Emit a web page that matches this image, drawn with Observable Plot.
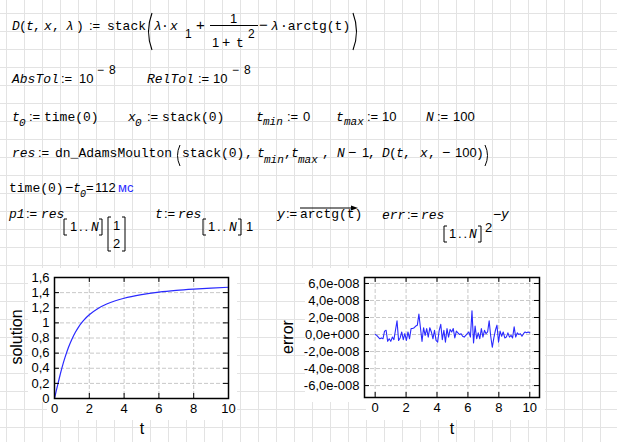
<!DOCTYPE html>
<html><head><meta charset="utf-8">
<script src="https://cdn.jsdelivr.net/npm/d3@7"></script>
<script src="https://cdn.jsdelivr.net/npm/@observablehq/plot@0.6"></script>
<style>
html,body{margin:0;padding:0;background:#fff;}
#sheet{position:relative;width:617px;height:442px;overflow:hidden;background-color:#fff;
 background-image:linear-gradient(to right,#e3e3e3 1px,transparent 1px),linear-gradient(to bottom,#e3e3e3 1px,transparent 1px);
 background-size:18px 18px;background-position:6px 13px;}
.white{position:absolute;background:#fff;}
.plotbox{position:absolute;}
#overlay{position:absolute;left:0;top:0;pointer-events:none;}
</style></head><body><div id="sheet"></div>
<script>
// ---------- data ----------
const solT = [0,0.1,0.2,0.3,0.4,0.5,0.6,0.8,1,1.2,1.4,1.6,1.8,2,2.5,3,3.5,4,5,6,7,8,9,10];
const solY = [0,0.100,0.197,0.291,0.381,0.464,0.540,0.675,0.785,0.876,0.951,1.012,1.064,1.107,1.190,1.249,1.292,1.326,1.373,1.406,1.429,1.446,1.460,1.471];
const xTicks = [0,2,4,6,8,10];
const solTicks = [0,0.2,0.4,0.6,0.8,1,1.2,1.4,1.6];
const errTicks = [-6e-8,-4e-8,-2e-8,0,2e-8,4e-8,6e-8];
const tMin = 0, tMax = 10, N = 100;
// error values in units of 1e-8, one per time step
const errE8 = [
  0,-0.1,-0.3,-0.5,-0.4,-0.5,0.4,0.5,-0.8,-0.5,
  -0.8,-0.3,-0.6,0.5,1.6,-0.7,-0.4,0.3,-0.6,0.1,
  -0.7,0.3,-0.5,0.7,0.7,0.8,1.0,1.1,2.4,0.8,
  -0.8,0.8,-0.1,0.7,-0.3,0.8,0.3,-0.5,0.5,-0.7,
  -0.9,0.5,1.2,-0.6,0.5,-0.9,0.7,-0.3,0.6,0.3,
  0.7,-0.4,0.4,0.2,0.0,0.1,-0.2,-0.3,-0.1,0.1,
  0.3,-0.3,2.8,-1.0,1.0,-0.5,0.2,-0.5,0.7,-0.3,
  0.5,0.1,0.3,1.6,-0.2,-1.5,-0.4,0.5,1.1,-0.9,
  0.4,-0.2,0.3,-0.4,-0.3,0.2,-0.3,-0.1,-0.4,0.9,
  -0.3,0.2,0.0,0.1,-0.2,0.1,0.3,0.2,0.3,0.2
];
const errT = d3.range(N).map(i => tMin + i * (tMax - tMin) / (N - 1));

const solData = solT.map((t, i) => ({t, v: solY[i]}));
const errData = errT.map((t, i) => ({t, v: errE8[i] * 1e-8}));

// ---------- layout ----------
const sheet = document.getElementById("sheet");
function whiteRect(l, t, w, h) {
  const d = document.createElement("div");
  d.className = "white";
  Object.assign(d.style, {left: l + "px", top: t + "px", width: w + "px", height: h + "px"});
  sheet.appendChild(d);
}
whiteRect(28, 268, 209, 134); whiteRect(47, 402, 190, 18);
whiteRect(305, 268, 240, 134); whiteRect(366, 402, 179, 18);

const fmtComma = d => String(Math.round(d * 10) / 10).replace(".", ",");
const fmtSci = d => {
  if (Math.abs(d) < 1e-20) return "0,0e+000";
  const e = Math.floor(Math.log10(Math.abs(d)) + 1e-9);
  const m = d / Math.pow(10, e);
  return m.toFixed(1).replace(".", ",") + "e" + (e < 0 ? "-" : "+") + String(Math.abs(e)).padStart(3, "0");
};
const gridStyle = {stroke: "#c8c8c8", strokeDasharray: "4,2", strokeWidth: 1};
const axisStyle = {background: "transparent", fontFamily: "Liberation Sans, Arial, sans-serif", fontSize: "13px", color: "#000", overflow: "visible"};

function inwardTicks(xt, yt, fw, fh) {
  return [
    Plot.ruleX(xt, {insetTop: fh - 5, stroke: "#000"}),
    Plot.ruleX(xt, {insetBottom: fh - 5, stroke: "#000"}),
    Plot.ruleY(yt, {insetRight: fw - 5, stroke: "#000"}),
    Plot.ruleY(yt, {insetLeft: fw - 5, stroke: "#000"})
  ];
}

const f1W = 174, f1H = 121;
const chart1 = Plot.plot({
  width: 240, height: 180, marginLeft: 54, marginRight: 12, marginTop: 17, marginBottom: 42,
  style: axisStyle,
  x: {domain: [0, 10], ticks: xTicks, tickFormat: fmtComma, tickSize: 0, tickPadding: 5, label: null},
  y: {domain: [0, 1.6], ticks: solTicks, tickFormat: fmtComma, tickSize: 0, tickPadding: 5, label: null},
  marks: [
    Plot.ruleX(xTicks, gridStyle),
    Plot.ruleY(solTicks, gridStyle),
    Plot.line(solData, {x: "t", y: "v", stroke: "#2a2aff", strokeWidth: 1.2, curve: "monotone-x"}),
    ...inwardTicks(xTicks, solTicks, f1W, f1H),
    Plot.frame({stroke: "#000", strokeWidth: 1.5})
  ]
});

const f2W = 175, f2H = 120;
const chart2 = Plot.plot({
  width: 294, height: 180, marginLeft: 104, marginRight: 15, marginTop: 17, marginBottom: 43,
  style: axisStyle,
  x: {domain: [-0.69, 10.63], ticks: xTicks, tickFormat: fmtComma, tickSize: 0, tickPadding: 5, label: null},
  y: {domain: [-7.4e-8, 6.7e-8], ticks: errTicks, tickFormat: fmtSci, tickSize: 0, tickPadding: 5, label: null},
  marks: [
    Plot.ruleX(xTicks, gridStyle),
    Plot.ruleY(errTicks, gridStyle),
    Plot.line(errData, {x: "t", y: "v", stroke: "#2a2aff", strokeWidth: 1.1}),
    ...inwardTicks(xTicks, errTicks, f2W, f2H),
    Plot.frame({stroke: "#000", strokeWidth: 1.5})
  ]
});

function place(node, l, t, w, h) {
  const d = document.createElement("div");
  d.className = "plotbox";
  Object.assign(d.style, {left: l + "px", top: t + "px", width: w + "px", height: h + "px"});
  d.appendChild(node);
  sheet.appendChild(d);
}
place(chart1, 0, 260, 240, 180);
place(chart2, 260, 260, 294, 180);

// ---------- worksheet text ----------
const svg = d3.select(sheet).append("svg").attr("id", "overlay").attr("width", 617).attr("height", 442);
const MONO = "Liberation Mono, Courier New, monospace";
const SANS = "Liberation Sans, Arial, sans-serif";
function tok(x, y, s, o = {}) {
  return svg.append("text").attr("x", x).attr("y", y).text(s)
    .attr("font-family", o.sans ? SANS : MONO)
    .attr("font-size", o.size || 13)
    .attr("font-style", o.i ? "italic" : null)
    .attr("letter-spacing", o.ls || null)
    .attr("fill", o.c || "#000")
    .style("white-space", "pre");
}
function def(x, y) { return tok(x, y, ":=", {sans: 1, size: 13}); }
function path(d, w = 1) { svg.append("path").attr("d", d).attr("fill", "none").attr("stroke", "#000").attr("stroke-width", w); }
function lbr(x, y1, y2) { path(`M${x + 3},${y1}H${x}V${y2}H${x + 3}`); }
function rbr(x, y1, y2) { path(`M${x - 3},${y1}H${x}V${y2}H${x - 3}`); }
function dots(x, y) { return tok(x, y, "..", {sans: 1, ls: 2}); }
const S = {sans: 1}, I = {i: 1};

// row 1
tok(12, 30, "D", I); tok(19, 30, "("); tok(26, 30, "t", I); tok(33, 30, ",");
tok(44, 30, "x", I); tok(52, 30, ","); tok(66, 30, "λ", I); tok(76, 30, ")");
def(89, 30); tok(107, 30, "stack");
path("M152,13 Q145,31.5 152,50", 1.1);
tok(154, 30, "λ", I); tok(161, 30, "·"); tok(170, 30, "x", I);
tok(185, 38, "1", {sans: 1, size: 12});
tok(196, 30, "+", {sans: 1, size: 15});
svg.append("line").attr("x1", 210).attr("x2", 258).attr("y1", 25.5).attr("y2", 25.5).attr("stroke", "#000");
tok(230, 23, "1", S);
tok(212, 47, "1", S); tok(222, 47, "+", {sans: 1, size: 14}); tok(236, 47, "t");
tok(248, 38, "2", {sans: 1, size: 12});
tok(259, 30, "−", {sans: 1, size: 15});
tok(271, 30, "λ", I); tok(280, 30, "·arctg(t)");
path("M353,13 Q360,31.5 353,50", 1.1);

// row 2
tok(12, 83, "AbsTol", I); def(61, 83); tok(79, 83, "10", S);
tok(97, 74, "−", {sans: 1, size: 12}); tok(109, 74, "8", {sans: 1, size: 12});
tok(147, 83, "RelTol", I); def(198, 83); tok(213, 83, "10", S);
tok(232, 74, "−", {sans: 1, size: 12}); tok(244, 74, "8", {sans: 1, size: 12});

// row 3
tok(12, 121, "t", I); tok(19, 126, "0", {i: 1, size: 11}); def(29, 121); tok(44, 121, "time(0)");
tok(128, 121, "x", I); tok(135, 126, "0", {i: 1, size: 11}); def(147, 121); tok(162, 121, "stack(0)");
tok(256, 121, "t", I); tok(263, 125, "min", {i: 1, size: 11}); def(287, 121); tok(303, 121, "0", S);
tok(336, 121, "t", I); tok(344, 125, "max", {i: 1, size: 11}); def(367, 121); tok(382, 121, "10", S);
tok(426, 121, "N", I); def(437, 121); tok(453, 121, "100", S);

// row 4
tok(12, 157, "res", I); def(38, 157); tok(55, 157, "dn_AdamsMoulton");
path("M180,145 Q175,155.5 180,166", 1);
tok(182, 157, "stack(0)"); tok(245, 157, ",");
tok(257, 157, "t", I); tok(264, 163, "min", {i: 1, size: 11}); tok(284, 157, ",");
tok(291, 157, "t", I); tok(298, 163, "max", {i: 1, size: 11}); tok(322, 157, ",");
tok(337, 157, "N", I); tok(348, 157, "−", {sans: 1, size: 14}); tok(362, 157, "1", S); tok(368, 157, ",");
tok(382, 157, "D", I); tok(389, 157, "("); tok(396, 157, "t", I); tok(403, 157, ",");
tok(420, 157, "x", I); tok(428, 157, ","); tok(442, 157, "−", {sans: 1, size: 14}); tok(455, 157, "100", S); tok(476, 157, ")");
path("M485,145 Q490,155.5 485,166", 1);

// row 5
tok(9, 192, "time(0)"); tok(65, 192, "−", {sans: 1, size: 14}); tok(73, 192, "t", I); tok(80, 197, "0", {i: 1, size: 10});
tok(86, 192, "=", S); tok(95, 192, "112", S); tok(118, 192, "мс", {sans: 1, c: "#2b2bff"});

// row 6
tok(9, 218, "p1", I); def(26, 218); tok(41, 218, "res", I);
lbr(64, 219, 235); tok(70, 231, "1", S); dots(79, 231); tok(91, 231, "N", I); rbr(102, 219, 235);
lbr(108, 217, 251); tok(113, 230, "1", S); tok(113, 248, "2", S); rbr(125, 217, 251);
tok(155, 218, "t", I); def(164, 218); tok(178, 218, "res", I);
lbr(203, 219, 235); tok(208, 231, "1", S); dots(217, 231); tok(229, 231, "N", I); rbr(241, 219, 235);
tok(246, 231, "1", S);
tok(277, 218, "y", I); def(286, 218); tok(300, 218, "arctg(t)");
svg.append("line").attr("x1", 300).attr("x2", 354).attr("y1", 208).attr("y2", 208).attr("stroke", "#000");
svg.append("path").attr("d", "M358,208 L351,205.5 L351,210.5 Z").attr("fill", "#000");
tok(382, 219, "err", I); def(407, 219); tok(421, 219, "res", I);
lbr(444, 226, 242); tok(449, 238, "1", S); dots(458, 238); tok(469, 238, "N", I); rbr(481, 226, 242);
tok(485, 232, "2", S); tok(493, 219, "−", {sans: 1, size: 14}); tok(501, 218, "y", I);

// axis titles
svg.append("text").attr("transform", "translate(22,337) rotate(-90)").attr("text-anchor", "middle")
  .attr("font-family", SANS).attr("font-size", 16).text("solution");
svg.append("text").attr("x", 142).attr("y", 434).attr("text-anchor", "middle").attr("font-family", SANS).attr("font-size", 16).text("t");
svg.append("text").attr("transform", "translate(293,337) rotate(-90)").attr("text-anchor", "middle")
  .attr("font-family", SANS).attr("font-size", 16).text("error");
svg.append("text").attr("x", 452).attr("y", 434).attr("text-anchor", "middle").attr("font-family", SANS).attr("font-size", 16).text("t");
</script>
</body></html>
